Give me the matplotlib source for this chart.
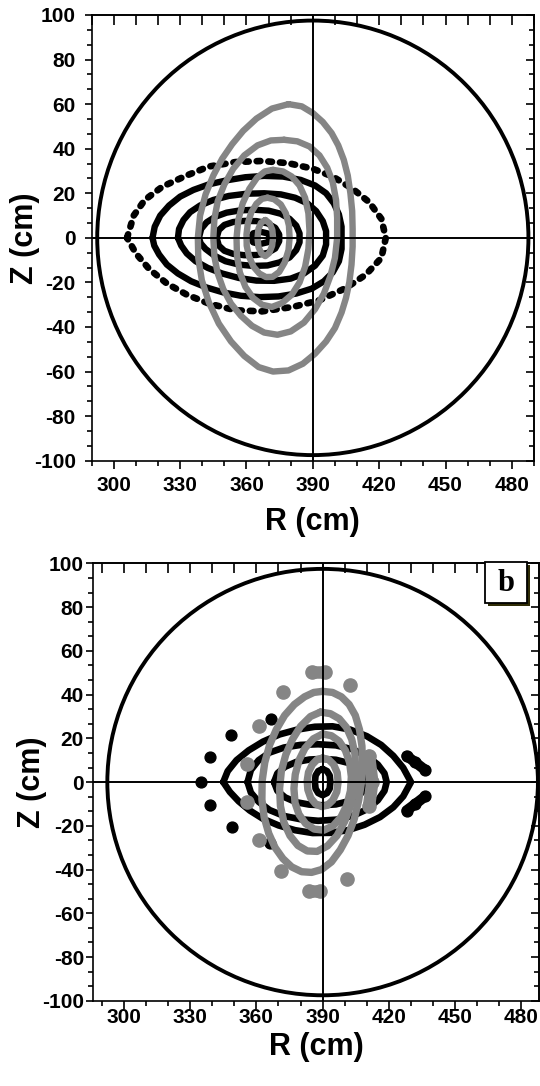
# 토카막 단면 포앵카레 도 (a: 위, b: 아래)
import matplotlib
matplotlib.use('Agg')
import matplotlib.pyplot as plt
from matplotlib.patches import Circle, Rectangle
from matplotlib.ticker import MultipleLocator, NullFormatter

plt.rcParams['font.family'] = ['Liberation Sans', 'DejaVu Sans']
plt.rcParams['font.weight'] = 'bold'
plt.rcParams['axes.linewidth'] = 1.2
plt.rcParams['axes.unicode_minus'] = False

# ======================================================
# 공통 값
R0 = 390          # 용기 중심 R (cm)
WALL_R = 97.5     # 벽 반경 (cm)
r_ticks = [300, 330, 360, 390, 420, 450, 480]
z_ticks = [-100, -80, -60, -40, -20, 0, 20, 40, 60, 80, 100]

# ======================================================
# (a) 검은 점 궤적 (바깥 -> 안쪽)
a_black_r = [
    [306, 309, 314, 322, 333, 343, 355, 367, 379, 390, 399, 408, 415.5, 421, 423, 421, 414, 405, 393, 381, 367, 355, 343, 333, 324, 316, 310],
    [317.5, 318.5, 321, 325, 330, 336, 343, 351, 359.5, 368, 376.5, 384.5, 391, 396, 399.5, 401.8, 403, 403, 401.8, 399,
     395, 389.5, 382.5, 374.5, 366, 357.5, 349.5, 342, 335, 329, 324, 320.5, 318.3],
    [329, 329.5, 331.5, 334.5, 339, 345, 352, 360, 368, 375.5, 382, 387.5, 391.5, 394.5, 396, 396, 394.5, 391, 386, 380,
     372.5, 364.5, 356.5, 349, 342.5, 337, 333, 330.5],
    [338.5, 339.5, 342, 346, 351, 357, 363.5, 370, 375.5, 379.5, 382.5, 384, 384, 382.5, 379.5, 375, 369.5, 363, 356.5,
     350.5, 345.5, 341.5, 339.3],
    [346.5, 347.5, 350, 354, 359, 364.5, 369.5, 373, 374.8, 374.8, 373, 369.5, 364.5, 359, 354, 350, 347.5],
    [362, 363, 366, 369.5, 371, 369.5, 366, 363],
]
a_black_z = [
    [0, 10, 17, 23, 28, 32, 34, 34.5, 33.5, 31, 27.5, 22, 16, 8.5, 0, -9, -16.5, -22.5, -28, -31, -33, -32.5, -29.5, -25.5, -20.5, -14, -7],
    [0, 5, 10, 14.5, 18.5, 21.5, 24, 25.8, 27.2, 27.8, 27.5, 26, 23.5, 20, 15.5, 10.5, 5, -5, -10.5, -15.5,
     -19.5, -22.8, -25, -26.3, -26.6, -26, -24.5, -22.3, -19.5, -16, -12, -7.5, -3.5],
    [0, 4, 8, 11.5, 14.5, 17, 18.8, 19.8, 20, 19.5, 18, 15.5, 12, 7.5, 3, -3, -8, -12.5, -16, -18.3,
     -19.3, -19.2, -18, -16, -13.5, -10.5, -7, -3.5],
    [0, 4, 7, 9.5, 11.3, 12.3, 12.6, 12.2, 10.8, 8.5, 5.5, 2, -2, -5.5, -8.8, -11, -12.4, -12.6, -12,
     -10.5, -8, -5, -2.5],
    [0, 3.5, 5.8, 7.1, 7.6, 7.5, 6.5, 4.5, 1.5, -1.5, -4.8, -6.8, -7.7, -7.8, -7.2, -5.8, -3.5],
    [0, 2, 2.8, 2, 0, -2, -2.8, -2],
]
# (a) 회색 점 궤적
a_gray_r = [
    [379, 385, 390, 394.5, 398.5, 401.5, 404, 405.8, 407, 407.8, 408, 408, 407.5, 406.5, 405, 403, 400, 396, 391, 385.5,
     379, 372, 365.5, 359, 353, 347.5, 343, 339.8, 338.2, 338, 339, 341.5, 345, 349, 353.5, 358.5, 364.5, 371.5],
    [377, 383, 388.5, 393, 396.5, 399, 400.5, 401, 401, 400, 398, 395, 391, 386, 380, 374, 368, 362.5, 357.5, 353,
     349.5, 347, 345.5, 345, 345.5, 347, 350, 354, 359, 365, 371],
    [372, 376.5, 380.5, 384, 386.5, 388, 388.5, 388, 386.5, 384, 380.5, 376, 371.5, 367, 363, 359.5, 357, 355.7, 355.5,
     356.3, 358.3, 361.3, 364.8, 368.3],
    [369.5, 372.5, 375.5, 377.8, 379.2, 379.5, 379, 377.3, 374.8, 371.8, 368.8, 365.8, 363.2, 361.2, 360.1, 360, 360.6,
     362.2, 364.5, 367],
    [368.5, 370.5, 371.7, 372, 371.6, 370.3, 368.5, 366.7, 365.4, 365, 365.4, 366.6],
]
a_gray_z = [
    [60, 59, 56, 52, 47, 41.5, 35, 28, 20, 12, 4, -4, -12, -20, -27, -33.5, -40.5, -46.5, -52, -56.5,
     -59.5, -60, -58, -53, -46.5, -38.5, -29, -19, -9, 0, 10, 19.5, 28, 35.5, 42, 48, 53.5, 58],
    [44, 43.3, 41, 37, 31.5, 25, 17, 9, 0, -9, -17, -25, -32, -38, -42, -43.5, -42.5, -39.5, -35, -29.5,
     -23, -16, -8.5, 0, 8.5, 16.5, 24, 31, 37, 41.5, 43.7],
    [30.5, 29.8, 27.5, 23.5, 18, 11, 3, -5, -13, -20, -25.5, -29.3, -31, -30, -27, -22, -15.5, -8, 0, 8,
     15.5, 22, 27, 29.8],
    [18, 17.3, 15, 11, 5.5, 0, -5.5, -11, -15.3, -17.5, -17.6, -16, -13, -8.5, -3.5, 1.5, 6.5, 11.5, 15.3, 17.5],
    [8, 6.5, 3.5, 0, -3.5, -6.8, -8.2, -7, -4, 0, 4, 6.8],
]

# ======================================================
# (b) 검은 점 궤적
b_black_r = [
    [345, 347, 351, 356.5, 363, 370.5, 378.5, 386.5, 394.5, 402.5, 410, 416.5, 422, 426.5, 430, 426.5, 422, 416, 409,
     401.5, 393.5, 385.5, 377.5, 370, 363, 357, 352, 348],
    [356, 357.5, 361, 366, 372.5, 380, 388, 396, 403.5, 410, 415, 418, 419, 418, 415, 410, 403.5, 396, 388, 380,
     372.5, 366, 361, 357.5],
    [368, 369.5, 373, 378, 384, 390, 396, 401.5, 406, 409, 410, 409, 406, 401.5, 396, 390, 384, 378, 373, 369.5],
    [390, 392, 393.2, 393.5, 393.2, 392, 390, 388, 386.8, 386.5, 386.8, 388],
]
b_black_z = [
    [0, 5, 10, 14.5, 18.5, 21.8, 24, 25.3, 25.5, 24, 21, 17, 12, 6.5, 0, -6.5, -11.5, -16, -19.5,
     -22, -23.2, -23.3, -22, -19.8, -16.8, -13, -8.8, -4.5],
    [0, 5.5, 10, 13.5, 15.8, 17, 17.3, 16.8, 15, 12, 8, 4, 0, -4, -8.3, -12.5, -15.5, -17.2, -17.7, -17,
     -15.5, -12.8, -9, -4.8],
    [0, 4, 7, 9.2, 10.3, 10.6, 10.2, 8.8, 6.5, 3.5, 0, -3.5, -6.5, -8.8, -10.2, -10.6, -10.3, -9.2, -7, -4],
    [6, 5, 3, 0, -3, -5, -6, -5, -3, 0, 3, 5],
]
# (b) 검은 섬
b_black_isl_r = [[335], [338.8], [338.8], [348.3], [348.8], [366.5], [366], [428, 432, 436.5], [428, 432, 436.5]]
b_black_isl_z = [[0], [11.5], [-10.5], [21.5], [-20.5], [29], [-28], [12, 9, 5.5], [-13, -10, -6.5]]

# (b) 회색 점 궤적
b_gray_r = [
    [390, 394.5, 398.5, 402, 404.8, 406.7, 407.8, 408, 407.6, 406.3, 404.3, 401.5, 398, 394, 389.5, 385, 380.5, 376,
     372, 368.5, 365.6, 363.5, 362.5, 362.6, 363.8, 366, 369, 372.8, 377.2, 381.8, 386],
    [389, 393.5, 397.5, 400.8, 403.2, 404.6, 405, 404.5, 402.8, 400, 396.5, 392.2, 387.5, 383, 378.8, 375.2, 372.5,
     370.9, 370.5, 371.3, 373.3, 376.3, 380, 384.5],
    [390, 394, 397.5, 400.3, 402.2, 403, 402.6, 401, 398.3, 394.8, 390.5, 386.2, 382.3, 379.3, 377.5, 377, 377.6,
     379.3, 382, 385.8],
    [390, 392.7, 395, 396.6, 397, 396.4, 394.6, 392.2, 389.5, 386.8, 384.6, 383.3, 383, 383.6, 385.3, 387.5],
]
b_gray_z = [
    [41.5, 41, 39, 35.5, 30.5, 24, 16.5, 8.5, 0, -8.5, -17, -24.5, -31, -36.5, -40, -41.3, -41, -38.8, -35, -30,
     -23.5, -16, -8, 0.5, 9, 17, 24, 30.5, 35.5, 39, 41],
    [32, 31.3, 29, 25, 19.5, 13, 5.5, -2.5, -10.5, -18, -24.5, -29.2, -31.7, -31.5, -29, -24.5, -18.5, -11, -3, 5,
     12.5, 19.5, 25.5, 30],
    [22, 21.2, 18.7, 14.5, 9, 2.5, -4, -10.5, -16, -20, -22, -21.5, -19, -14.8, -9.5, -3, 3.5, 10, 15.5, 19.8],
    [11, 10.3, 8, 4.3, 0, -4.5, -8.3, -10.6, -11.2, -10, -7.3, -3.5, 0.5, 4.5, 8, 10.3],
]
# (b) 회색 섬
b_gray_isl_r = [[385, 391], [402.4], [372.2], [361.3], [355.8], [355.8], [361.3], [371.3], [400.9], [384, 389], [411, 412.5, 411]]
b_gray_isl_z = [[50.5, 50.5], [44.5], [41.4], [25.6], [8.3], [-9], [-26.3], [-40.5], [-44.5], [-50, -50], [12, 0, -11]]

GRAY = '#858585'

# ======================================================
def draw_frame(ax, xlim, xpad, ypad, xlab_y, ylab_x):
    ax.set_xlim(xlim)
    ax.set_ylim(-100, 100)
    ax.add_patch(Circle((R0, 0), WALL_R, fill=False, lw=2.8, color='k', zorder=2))
    ax.axhline(0, color='k', lw=1.4, zorder=6)
    ax.axvline(R0, color='k', lw=1.4, zorder=6)

    ax.set_xticks(r_ticks)
    ax.set_yticks(z_ticks)
    ax.xaxis.set_minor_locator(MultipleLocator(10))
    ax.yaxis.set_minor_locator(MultipleLocator(20 / 3))
    ax.tick_params(which='major', direction='out', width=1.2, labelsize=15)
    ax.tick_params(axis='x', which='major', length=6, pad=xpad)
    ax.tick_params(axis='y', which='major', length=5, pad=ypad)
    ax.tick_params(which='minor', direction='out', length=3.3, width=1.2)

    top = ax.secondary_xaxis('top')
    top.xaxis.set_major_locator(MultipleLocator(10))
    top.xaxis.set_major_formatter(NullFormatter())
    top.tick_params(direction='in', length=7, width=1.2)

    right = ax.secondary_yaxis('right')
    right.yaxis.set_major_locator(MultipleLocator(20))
    right.yaxis.set_minor_locator(MultipleLocator(20 / 3))
    right.yaxis.set_major_formatter(NullFormatter())
    right.tick_params(which='major', direction='in', length=5.5, width=1.2)
    right.tick_params(which='minor', direction='in', length=3.3, width=1.2)

    ax.set_xlabel('R (cm)', fontsize=22, fontweight='bold')
    ax.set_ylabel('Z (cm)', fontsize=22, fontweight='bold')
    ax.xaxis.set_label_coords(0.5, xlab_y)
    ax.yaxis.set_label_coords(ylab_x, 0.5)


def draw_rings(ax, rr, zz, color, lw, z):
    for r, zc in zip(rr, zz):
        ax.plot(r + r[:1], zc + zc[:1], color=color, lw=lw, solid_joinstyle='round',
                solid_capstyle='round', zorder=z)


fig = plt.figure(figsize=(5.4, 10.86), dpi=100)
ax1 = fig.add_axes([0.1698, 0.5758, 0.819, 0.4104])
ax2 = fig.add_axes([0.1722, 0.0785, 0.826, 0.4027])

# ---- (a)
draw_frame(ax1, (290, 490), xpad=5, ypad=6.5, xlab_y=-0.105, ylab_x=-0.118)
r, z = a_black_r[0], a_black_z[0]
ax1.plot(r + r[:1], z + z[:1], color='k', lw=4.8, ls=(0, (0.55, 1.2)),
         dash_capstyle='round', zorder=3)
draw_rings(ax1, a_black_r[1:], a_black_z[1:], 'k', 4.6, 3)
draw_rings(ax1, a_gray_r, a_gray_z, GRAY, 4.6, 4)

# ---- (b)
draw_frame(ax2, (286, 488), xpad=-1, ypad=1.5, xlab_y=-0.072, ylab_x=-0.103)
draw_rings(ax2, b_black_r, b_black_z, 'k', 4.8, 3)
for r, z in zip(b_black_isl_r, b_black_isl_z):
    ax2.plot(r, z, color='k', lw=7.5, marker='o', ms=7.8, solid_capstyle='round', zorder=3)
draw_rings(ax2, b_gray_r, b_gray_z, GRAY, 5.3, 4)
for r, z in zip(b_gray_isl_r, b_gray_isl_z):
    ax2.plot(r, z, color=GRAY, lw=9, marker='o', ms=9.5, solid_capstyle='round',
             solid_joinstyle='round', zorder=4)

# 'b' 표지 (그림자 상자)
ax2.add_patch(Rectangle((0.886, 0.902), 0.094, 0.095, transform=ax2.transAxes,
                        facecolor='#2f2c05', edgecolor='none', clip_on=False, zorder=7))
ax2.add_patch(Rectangle((0.879, 0.909), 0.094, 0.095, transform=ax2.transAxes,
                        facecolor='white', edgecolor='k', lw=1.3, clip_on=False, zorder=8))
ax2.text(0.926, 0.953, 'b', transform=ax2.transAxes, ha='center', va='center',
         fontsize=22, fontweight='bold', family=['Liberation Serif', 'DejaVu Serif'], zorder=9)

fig.savefig('out.png', dpi=100)
